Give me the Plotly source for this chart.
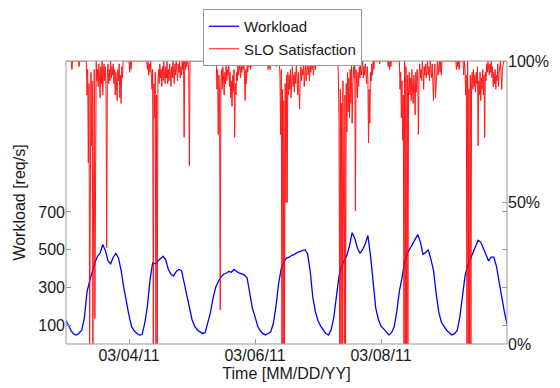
import pandas as pd
import plotly.graph_objects as go

START = pd.Timestamp("2011-03-03 00:00")
END = pd.Timestamp("2011-03-10 00:00")

# Workload [req/s], one reading per hour from 03/03/11 00:00 to 03/10/11 00:00
workload = [
    125, 95, 70, 52, 47, 58, 73, 140, 275, 335, 390, 430, 465, 482, 527, 495, 440, 425, 460, 480, 455, 390, 300, 215,
    150, 92, 70, 56, 47, 50, 110, 200, 340, 430, 425, 440, 455, 465, 445, 395, 370, 360, 385, 395, 390, 325, 265, 200,
    130, 95, 75, 64, 56, 60, 110, 165, 240, 300, 330, 355, 370, 375, 385, 380, 395, 385, 375, 372, 365, 350, 280, 190,
    145, 95, 70, 55, 48, 55, 65, 110, 200, 320, 400, 435, 455, 460, 470, 475, 485, 490, 495, 500, 480, 390, 250, 170,
    125, 95, 75, 55, 47, 75, 140, 240, 360, 415, 445, 470, 520, 590, 560, 510, 480, 500, 530, 575, 470, 330, 190, 130,
    95, 80, 62, 48, 60, 90, 170, 280, 350, 440, 480, 505, 530, 555, 580, 540, 475, 485, 500, 450, 390, 270, 170, 115,
    95, 73, 60, 48, 55, 70, 140, 260, 358, 415, 450, 480, 520, 550, 540, 505, 465, 440, 460, 460, 410, 320, 250, 170,
    105,
]
workload_hours = list(range(len(workload)))

# SLO satisfaction [%]: 100 % outside the listed stretches; each stretch is sampled every 15 minutes
SLO_STEP_H = 0.25
slo_starts = [2.0, 4.75, 7.75, 24.0, 30.75, 57.25, 76.75, 80.0, 81.25, 103.5, 119.25, 122.5,
              127.0, 148.5, 151.25]
slo_tick_a = [100, 97, 100]
slo_tick_b = [100, 98, 100]
slo_mar03 = [100, 88, 97, 64, 92, 0, 85, 96, 70, 93, 0, 90, 97, 9, 95, 100, 93, 97, 91, 99, 94, 87, 98, 92,
             100, 88, 96, 99, 93, 98, 90, 34, 95, 99, 92, 97, 93, 100, 94, 98, 95, 99, 92, 97, 88, 96, 91, 86,
             97, 93, 99, 87, 95, 85, 98, 94, 100]
slo_tick_c = [100, 96, 100, 97, 100]
slo_mar04 = [100, 97, 100, 95, 99, 96, 100, 94, 90, 97, 0, 92, 80, 96, 0, 88, 0, 93, 97, 92, 99, 94, 97, 91,
             98, 93, 100, 95, 92, 98, 94, 100, 92, 97, 93, 99, 95, 91, 98, 94, 100, 96, 92, 99, 95, 100, 97, 93,
             99, 96, 100, 94, 98, 95, 100, 97, 100, 73, 100, 97, 100, 98, 100, 100, 96, 63, 100]
slo_mar05 = [100, 90, 97, 74, 95, 88, 12, 93, 97, 90, 98, 94, 88, 96, 92, 99, 93, 97, 95, 100, 91, 96, 87, 93,
             84, 95, 89, 97, 73, 92, 88, 96, 93, 99, 95, 97, 100, 94, 98, 96, 100, 97, 100, 95, 86, 97, 92, 99,
             96, 100, 98, 100, 97, 100, 98, 100, 99, 100]
slo_tick_d = [100, 97, 100, 100, 97, 100]
slo_tick_e = [100, 98, 100]
slo_mar06 = [100, 95, 74, 97, 0, 90, 0, 86, 0, 92, 50, 95, 50, 96, 88, 95, 90, 97, 87, 93, 98, 91, 95, 89,
             96, 92, 99, 94, 88, 96, 91, 83, 95, 98, 93, 97, 95, 100, 91, 96, 99, 93, 97, 100, 95, 98, 93, 99,
             96, 100, 97, 100, 95, 99, 100, 97, 100]
slo_mar07 = [100, 95, 80, 0, 90, 0, 85, 0, 93, 60, 0, 88, 0, 92, 75, 96, 82, 94, 80, 97, 85, 99, 78, 91,
             98, 94, 100, 47, 97, 92, 87, 96, 91, 98, 94, 99, 95, 97, 100, 94, 98, 95, 99, 96, 92, 98, 94, 71,
             90, 78, 96, 93, 99, 95, 100, 97, 100]
slo_tick_f = [100, 99, 100]
slo_tick_g = [100, 98, 100, 97, 100, 98, 100]
slo_mar08 = [100, 90, 96, 80, 93, 72, 88, 0, 100, 0, 98, 0, 95, 0, 90, 96, 88, 94, 86, 97, 90, 85, 95, 91,
             81, 96, 89, 97, 93, 74, 95, 99, 94, 97, 93, 100, 96, 90, 98, 95, 99, 94, 97, 100, 95, 98, 93, 100,
             97, 94, 99, 91, 86, 95, 99, 87, 93, 97, 100, 95, 99, 100, 96, 100, 95, 100]
slo_tick_h = [100, 97, 100, 98, 100, 97, 100]
slo_mar09 = [100, 95, 100, 97, 88, 95, 0, 100, 0, 90, 0, 95, 0, 92, 96, 90, 97, 91, 95, 89, 96, 92, 98, 70,
             93, 88, 96, 86, 94, 90, 97, 88, 95, 73, 96, 93, 99, 96, 100, 97, 95, 99, 96, 100, 94, 98, 91, 96,
             92, 97, 90, 95, 93, 99, 91, 96, 98, 100, 95, 90, 97, 100, 100]
slo_segments = [slo_tick_a, slo_tick_b, slo_mar03, slo_tick_c, slo_mar04, slo_mar05, slo_tick_d,
                slo_tick_e, slo_mar06, slo_mar07, slo_tick_f, slo_tick_g, slo_mar08, slo_tick_h, slo_mar09]

x_ticks = ["2011-03-04", "2011-03-06", "2011-03-08"]
x_tick_labels = ["03/04/11", "03/06/11", "03/08/11"]
y_ticks = [100, 300, 500, 700]
y2_ticks = [0, 50, 100]
y2_tick_labels = ["0%", "50%", "100%"]

# ---- build series ----
w_x = [START + pd.Timedelta(hours=h) for h in workload_hours]

slo_h = [0.0]
slo_v = [100]
for s, vals in zip(slo_starts, slo_segments):
    for i, v in enumerate(vals):
        slo_h.append(s + SLO_STEP_H * i)
        slo_v.append(v)
slo_h.append(168.0)
slo_v.append(100)
s_x = [START + pd.Timedelta(hours=h) for h in slo_h]

FRAME = "#9a9a9a"
TXT = "#1a1a1a"
FONT = "Liberation Sans, Arial, sans-serif"

fig = go.Figure()
fig.add_trace(go.Scatter(x=w_x, y=workload, mode="lines", name="Workload",
                         line=dict(color="#0000ff", width=1.3), yaxis="y"))
fig.add_trace(go.Scatter(x=s_x, y=slo_v, mode="lines", name="SLO Satisfaction",
                         line=dict(color="#ff0000", width=1), opacity=0.9, yaxis="y2"))

fig.update_layout(
    width=560, height=388,
    margin=dict(l=66, r=53, t=61, b=44, autoexpand=False),
    paper_bgcolor="white", plot_bgcolor="white",
    font=dict(family=FONT, size=16, color=TXT),
    legend=dict(x=0.3107, y=1.1837, xanchor="left", yanchor="top",
                bordercolor=FRAME, borderwidth=1, bgcolor="white",
                font=dict(size=15), itemwidth=30, tracegroupgap=0),
    xaxis=dict(type="date", range=[START, END], tickvals=x_ticks, ticktext=x_tick_labels,
               ticks="inside", ticklen=5, tickcolor=FRAME, showline=False,
               mirror=False, showgrid=False, zeroline=False,
               title=dict(text="Time [MM/DD/YY]", standoff=4, font=dict(size=16))),
    yaxis=dict(range=[0, 1500], tickvals=y_ticks, ticks="inside", ticklen=5, tickcolor=FRAME,
               showline=False, mirror="ticks", showgrid=False, zeroline=False,
               title=dict(text="Workload [req/s]", standoff=8, font=dict(size=16))),
    yaxis2=dict(overlaying="y", side="right", range=[0, 100], tickvals=y2_ticks,
                ticktext=y2_tick_labels, ticks="inside", ticklen=5, tickcolor=FRAME,
                showline=False, showgrid=False, zeroline=False),
    shapes=[dict(type="rect", xref="paper", yref="paper", x0=0, x1=1, y0=0, y1=1,
                 line=dict(color=FRAME, width=1), fillcolor="rgba(0,0,0,0)", layer="above")],
)

fig.write_html("out.html", config={"displayModeBar": False},
               post_script="document.body.style.margin='0px';")
